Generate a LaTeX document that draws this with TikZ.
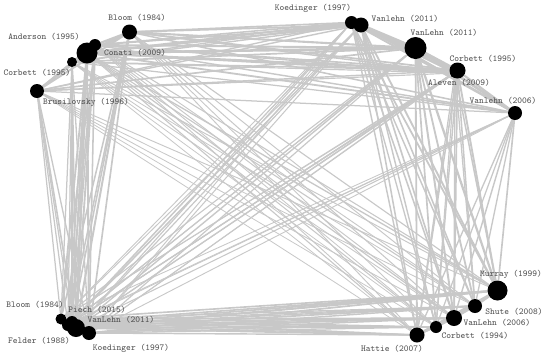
\documentclass[tikz,border=0pt]{standalone}
\pgfdeclarelayer{edges}
\pgfdeclarelayer{labs}
\pgfsetlayers{edges,labs,main}
\definecolor{edgegray}{RGB}{200,200,200}
\definecolor{labgray}{RGB}{80,80,80}
\tikzset{
  dot/.style={circle,fill=black,inner sep=0pt,minimum size=#1},
  lab/.style={text=labgray,font=\fontsize{9.1}{10}\selectfont\ttfamily,inner sep=0pt},
  edge/.style={draw=edgegray}
}
\begin{document}
\begin{tikzpicture}[x=1bp,y=-1bp]
\useasboundingbox (0,0) rectangle (550,356);
% ---- nodes (top-left cluster)
\node[dot=15bp] (bloomA)   at (129.5,32) {};
\node[dot=21bp] (anderson) at (87,53) {};
\node[dot=12bp] (conati)   at (95,45) {};
\node[dot=10bp] (corbettA) at (72,62) {};
\node[dot=14bp] (brus)     at (37,91) {};
% ---- top-right cluster
\node[dot=13bp] (koedA)    at (351.5,22.5) {};
\node[dot=15bp] (vanlehnA) at (361,25) {};
\node[dot=22bp] (vanlehnB) at (415.5,48) {};
\node[dot=10bp] (aleven)   at (455,73) {};
\node[dot=16bp] (corbettB) at (457.5,70.5) {};
\node[dot=14bp] (vanlehnE) at (515,113) {};
% ---- bottom-left cluster
\node[dot=11bp] (bloomB)   at (61,319) {};
\node[dot=12bp] (felder)   at (68,325) {};
\node[dot=12bp] (piech)    at (72,322) {};
\node[dot=18bp] (vanlehnC) at (76,328) {};
\node[dot=14bp] (koedB)    at (89,333) {};
% ---- bottom-right cluster
\node[dot=20bp] (murray)   at (497.5,290.5) {};
\node[dot=14bp] (shute)    at (475,306) {};
\node[dot=16bp] (vanlehnD) at (454,318) {};
\node[dot=12bp] (corbettC) at (436,327) {};
\node[dot=15bp] (hattie)   at (417,335) {};
% ---- labels
\begin{pgfonlayer}{labs}
\node[lab] (l-bloomA)   at (137,18)  {Bloom (1984)};
\node[lab] (l-anderson) at (44,37)   {Anderson (1995)};
\node[lab] (l-conati)   at (135,53)  {Conati (2009)};
\node[lab] (l-corbettA) at (37,73)   {Corbett (1995)};
\node[lab] (l-brus)     at (86,102)  {Brusilovsky (1996)};
\node[lab] (l-koedA)    at (313,8)   {Koedinger (1997)};
\node[lab] (l-vanlehnA) at (405,19)  {Vanlehn (2011)};
\node[lab] (l-vanlehnB) at (444,33)  {VanLehn (2011)};
\node[lab] (l-corbettB) at (483,59)  {Corbett (1995)};
\node[lab] (l-aleven)   at (459,83)  {Aleven (2009)};
\node[lab] (l-vanlehnE) at (503,101) {Vanlehn (2006)};
\node[lab] (l-bloomB)   at (35,305)  {Bloom (1984)};
\node[lab] (l-piech)    at (97,310)  {Piech (2015)};
\node[lab] (l-vanlehnC) at (121,320) {VanLehn (2011)};
\node[lab] (l-felder)   at (39,341)  {Felder (1988)};
\node[lab] (l-koedB)    at (131,348) {Koedinger (1997)};
\node[lab] (l-murray)   at (511,274) {Murray (1999)};
\node[lab] (l-shute)    at (514,312) {Shute (2008)};
\node[lab] (l-vanlehnD) at (497,323) {VanLehn (2006)};
\node[lab] (l-corbettC) at (475,336) {Corbett (1994)};
\node[lab] (l-hattie)   at (392,349) {Hattie (2007)};
\end{pgfonlayer}
% ---- edges: name/cluster/strength
\def\elist{bloomA/1/1.2,anderson/1/1.5,conati/1/1.1,corbettA/1/0.9,brus/1/0.9,
koedA/2/1.1,vanlehnA/2/1.2,vanlehnB/2/1.5,corbettB/2/1.2,aleven/2/0.9,vanlehnE/2/1.0,
bloomB/3/1.0,felder/3/1.0,piech/3/1.0,vanlehnC/3/1.4,koedB/3/1.1,
murray/4/1.3,shute/4/1.0,vanlehnD/4/1.1,corbettC/4/0.9,hattie/4/1.0}
\begin{pgfonlayer}{edges}
\foreach \a/\ca/\sa [count=\i] in \elist {
  \foreach \b/\cb/\sb [count=\j] in \elist {
    \ifnum\j>\i\relax
      \pgfmathsetmacro\f{(\ca==\cb)?1.5:((\ca+\cb==5)?0.5:1)}
      \pgfmathsetmacro\w{0.4+0.95*\f*\sa*\sb}
      \draw[edge,line width=\w bp] (\a) -- (\b);
    \fi
  }
}
\end{pgfonlayer}
\end{tikzpicture}
\end{document}
